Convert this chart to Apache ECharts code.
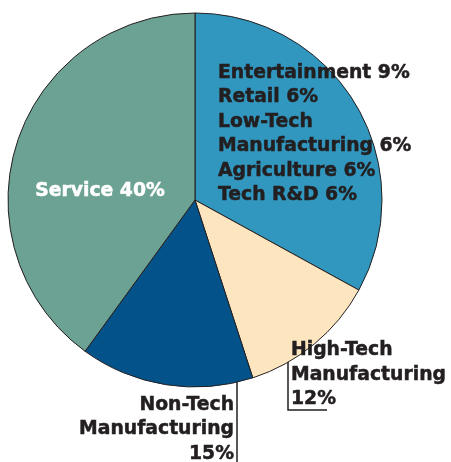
<!DOCTYPE html>
<html><head><meta charset="utf-8">
<script src="https://cdn.jsdelivr.net/npm/echarts@6/dist/echarts.min.js"></script>
<style>html,body{margin:0;padding:0;background:#fff}#c{width:451px;height:462px}</style>
</head><body><div id="c"></div>
<script>
// Small sectors grouped into one wedge
const groupNames = ['Entertainment', 'Retail', 'Low-Tech\nManufacturing', 'Agriculture', 'Tech R&D'];
const groupValues = [9, 6, 6, 6, 6];
// Main sectors
const mainNames = ['High-Tech\nManufacturing\n', 'Non-Tech\nManufacturing\n', 'Service'];
const mainValues = [12, 15, 40];
const colors = ['#3197BE', '#FDE5BF', '#03528A', '#6CA293'];

const groupTotal = groupValues.reduce((a, b) => a + b, 0);
const groupLabel = groupNames.map((n, i) => n + ' ' + groupValues[i] + '%').join('\n');

const data = [
  { name: 'group', value: groupTotal, label: { formatter: groupLabel }, labelLine: { show: false } },
  { name: mainNames[0], value: mainValues[0], label: { formatter: mainNames[0] + mainValues[0] + '%', align: 'left' } },
  { name: mainNames[1], value: mainValues[1], label: { formatter: mainNames[1] + mainValues[1] + '%', align: 'right' } },
  { name: mainNames[2], value: mainValues[2], label: { formatter: mainNames[2] + ' ' + mainValues[2] + '%', color: '#ffffff', textBorderColor: '#ffffff' }, labelLine: { show: false } }
];

const layouts = [
  { x: 218, y: 60.5, align: 'left', verticalAlign: 'top' },
  { x: 291, y: 338, align: 'left', verticalAlign: 'top', labelLinePoints: [[288, 325], [288, 410], [327, 410]] },
  { x: 234, y: 392.5, align: 'right', verticalAlign: 'top', labelLinePoints: [[237, 365], [237, 420], [237, 462]] },
  { x: 100, y: 191.5, align: 'center', verticalAlign: 'middle' }
];

const chart = echarts.init(document.getElementById('c'), null, { renderer: 'canvas' });
chart.setOption({
  animation: false,
  color: colors,
  series: [{
    type: 'pie',
    center: [195, 200],
    radius: 187,
    startAngle: 90,
    clockwise: true,
    avoidLabelOverlap: false,
    itemStyle: { borderColor: '#231F20', borderWidth: 1 },
    label: {
      show: true,
      position: 'outside',
      fontFamily: 'DejaVu Sans',
      fontWeight: 'bold',
      fontSize: 18.8,
      lineHeight: 24.5,
      color: '#231F20',
      textBorderColor: '#231F20',
      textBorderWidth: 0.5
    },
    labelLine: { show: true, lineStyle: { color: '#231F20', width: 1.5 } },
    labelLayout: function (p) { return layouts[p.dataIndex]; },
    data: data
  }]
});
</script></body></html>
